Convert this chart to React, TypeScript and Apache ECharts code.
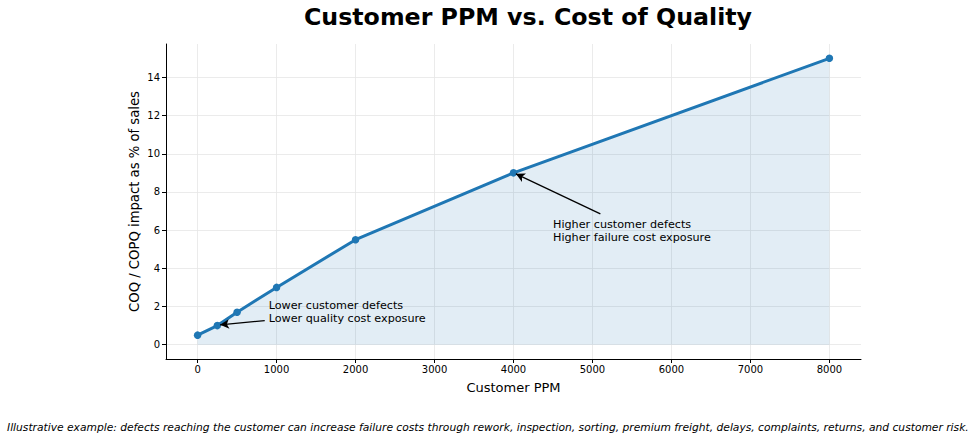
import React, { useEffect, useRef } from "react";
import * as echarts from "echarts";

const ppm = [0, 250, 500, 1000, 2000, 4000, 8000];
const coqPct = [0.5, 1.0, 1.7, 3.0, 5.5, 9.0, 15.0];
const xTicks = [0, 1000, 2000, 3000, 4000, 5000, 6000, 7000, 8000];
const yTicks = [0, 2, 4, 6, 8, 10, 12, 14];

const lowText = "Lower customer defects\nLower quality cost exposure";
const lowTextAt = [900, 1.03];
const lowArrow = [[850, 1.26], [285, 1.04]];
const highText = "Higher customer defects\nHigher failure cost exposure";
const highTextAt = [4500, 5.3];
const highArrow = [[5100, 6.85], [4030, 8.95]];

const titleText = "Customer PPM vs. Cost of Quality";
const footText =
  "Illustrative example: defects reaching the customer can increase failure costs through rework, inspection, sorting, premium freight, delays, complaints, returns, and customer risk.";

const FONT = "DejaVu Sans";

export default function App() {
  const ref = useRef<HTMLDivElement>(null);
  useEffect(() => {
    document.body.style.margin = "0";
    const chart = echarts.init(ref.current!, null, { renderer: "svg" });
    const gridColor = "#e6e6e6";
    chart.setOption({
      animation: false,
      textStyle: { fontFamily: FONT },
      title: {
        text: titleText,
        left: 523,
        top: 0,
        textAlign: "center",
        textStyle: { fontSize: 23.7, fontWeight: "bold", color: "#000", fontFamily: FONT },
      },
      graphic: [
        {
          type: "text",
          left: 7,
          top: 422,
          style: {
            text: footText,
            font: `italic 10.7px '${FONT}'`,
            fill: "#000",
          },
        },
      ],
      grid: { left: 166, right: 113, top: 44, bottom: 83 },
      xAxis: {
        type: "value",
        min: -400,
        max: 8400,
        name: "Customer PPM",
        nameLocation: "middle",
        nameGap: 22,
        nameTextStyle: { fontSize: 13, color: "#000", fontFamily: FONT },
        axisLine: { onZero: false, lineStyle: { color: "#000", width: 1 } },
        axisTick: { show: true, length: 4, customValues: xTicks, lineStyle: { color: "#000" } },
        axisLabel: {
          customValues: xTicks,
          formatter: (v: number) => String(v),
          fontSize: 10,
          color: "#000",
          margin: 5,
          fontFamily: FONT,
        },
        splitLine: { show: true, lineStyle: { color: gridColor, width: 0.8 } },
      },
      yAxis: {
        type: "value",
        min: -0.75,
        max: 15.75,
        name: "COQ / COPQ impact as % of sales",
        nameLocation: "middle",
        nameMoveOverlap: false,
        nameGap: 25,
        nameTextStyle: { fontSize: 13.2, color: "#000", fontFamily: FONT },
        axisLine: { show: true, onZero: false, lineStyle: { color: "#000", width: 1 } },
        axisTick: { show: true, length: 4, customValues: yTicks, lineStyle: { color: "#000" } },
        axisLabel: {
          customValues: yTicks,
          formatter: (v: number) => String(v),
          fontSize: 10,
          color: "#000",
          margin: 6,
          fontFamily: FONT,
        },
        splitLine: { show: true, lineStyle: { color: gridColor, width: 0.8 } },
      },
      series: [
        {
          type: "line",
          data: ppm.map((x, i) => [x, coqPct[i]]),
          lineStyle: { color: "#1f77b4", width: 3 },
          itemStyle: { color: "#1f77b4" },
          symbol: "circle",
          symbolSize: 7.5,
          areaStyle: { color: "#1f77b4", opacity: 0.13, origin: 0 },
          z: 3,
          markLine: {
            silent: true,
            symbol: ["none", "arrow"],
            symbolSize: [7, 9],
            lineStyle: { color: "#000", width: 1.3, type: "solid" },
            label: { show: false },
            data: [
              [{ coord: lowArrow[0] }, { coord: lowArrow[1] }],
              [{ coord: highArrow[0] }, { coord: highArrow[1] }],
            ],
          },
          markPoint: {
            silent: true,
            symbol: "circle",
            symbolSize: 0,
            data: [
              { coord: lowTextAt, value: lowText },
              { coord: highTextAt, value: highText },
            ].map((d) => ({
              coord: d.coord,
              label: {
                show: true,
                formatter: d.value,
                position: [0, 0],
                align: "left",
                verticalAlign: "bottom",
                fontSize: 11.2,
                lineHeight: 13,
                color: "#000",
                fontFamily: FONT,
              },
            })),
          },
        },
      ],
    });
    return () => chart.dispose();
  }, []);
  return <div ref={ref} style={{ width: 974, height: 442 }} />;
}
